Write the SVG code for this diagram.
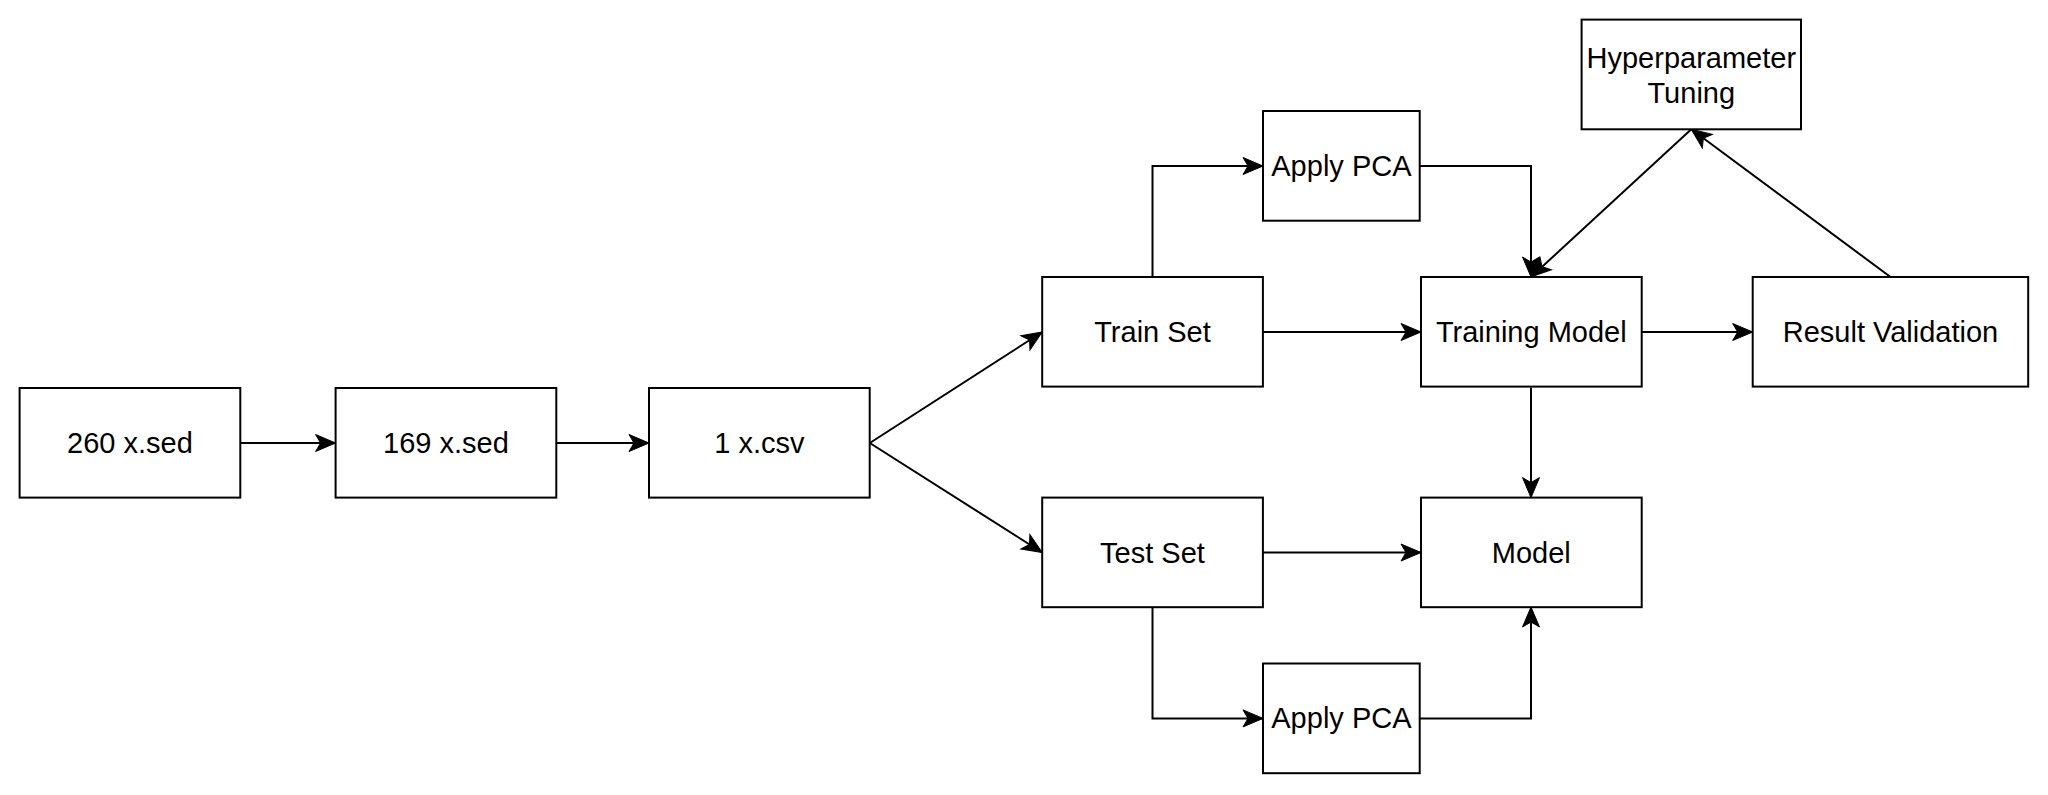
<svg xmlns="http://www.w3.org/2000/svg" width="2048" height="795" viewBox="0 0 2048 795">
<style>
.box{fill:#fff;stroke:#000;stroke-width:2}
.lbl{font-family:"Liberation Sans",Arial,sans-serif;font-size:29px;fill:#000;text-anchor:middle;dominant-baseline:central}
.edge{fill:none;stroke:#000;stroke-width:2}
</style>
<defs>
<marker id="arr" markerUnits="userSpaceOnUse" markerWidth="22" markerHeight="20" viewBox="0 0 22 20" refX="21" refY="10" orient="auto">
<path d="M1,1.5 L21,10 L1,18.5 L6,10 Z" fill="#000" stroke="#000" stroke-width="1"/>
</marker>
</defs>
<rect width="2048" height="795" fill="#fff"/>
<g id="connectors">
<path class="edge" marker-end="url(#arr)" d="M240.3,443 L335.6,443"/>
<path class="edge" marker-end="url(#arr)" d="M556.3,443 L649,443"/>
<path class="edge" marker-end="url(#arr)" d="M869.8,443 L1042.2,332"/>
<path class="edge" marker-end="url(#arr)" d="M869.8,443 L1042.2,552.5"/>
<path class="edge" marker-end="url(#arr)" d="M1152.5,277 L1152.5,166 L1263,166"/>
<path class="edge" marker-end="url(#arr)" d="M1419.7,166 L1531,166 L1531,277"/>
<path class="edge" marker-end="url(#arr)" d="M1263,332 L1421,332"/>
<path class="edge" marker-end="url(#arr)" d="M1641.7,332 L1752.7,332"/>
<path class="edge" marker-end="url(#arr)" d="M1531,387.6 L1531,497.6"/>
<path class="edge" marker-end="url(#arr)" d="M1263,552.5 L1421,552.5"/>
<path class="edge" marker-end="url(#arr)" d="M1152.5,607 L1152.5,718.4 L1263,718.4"/>
<path class="edge" marker-end="url(#arr)" d="M1419.7,718.4 L1531,718.4 L1531,607"/>
<path class="edge" marker-end="url(#arr)" d="M1691.3,129.3 L1531,277"/>
<path class="edge" marker-end="url(#arr)" d="M1890.5,277 L1691.3,129.3"/>
</g>
<g id="n260"><rect class="box" x="19.6" y="388" width="220.7" height="109.6"/><text class="lbl" x="130" y="443">260 x.sed</text></g>
<g id="n169"><rect class="box" x="335.6" y="388" width="220.7" height="109.6"/><text class="lbl" x="446" y="443">169 x.sed</text></g>
<g id="ncsv"><rect class="box" x="649" y="388" width="220.7" height="109.6"/><text class="lbl" x="759.4" y="443">1 x.csv</text></g>
<g id="train"><rect class="box" x="1042.2" y="277" width="220.7" height="109.6"/><text class="lbl" x="1152.5" y="332">Train Set</text></g>
<g id="test"><rect class="box" x="1042.2" y="497.6" width="220.7" height="109.6"/><text class="lbl" x="1152.5" y="552.5">Test Set</text></g>
<g id="pca1"><rect class="box" x="1263" y="111" width="156.7" height="109.7"/><text class="lbl" x="1341.4" y="166">Apply PCA</text></g>
<g id="pca2"><rect class="box" x="1263" y="663.5" width="156.7" height="109.7"/><text class="lbl" x="1341.4" y="718.4">Apply PCA</text></g>
<g id="training"><rect class="box" x="1421" y="277" width="220.7" height="109.6"/><text class="lbl" x="1531.3" y="332">Training Model</text></g>
<g id="model"><rect class="box" x="1421" y="497.6" width="220.7" height="109.6"/><text class="lbl" x="1531.3" y="552.5">Model</text></g>
<g id="validation"><rect class="box" x="1752.7" y="277" width="275.5" height="109.6"/><text class="lbl" x="1890.5" y="332">Result Validation</text></g>
<g id="hyper"><rect class="box" x="1581.6" y="19.6" width="219.4" height="109.7"/><text class="lbl" x="1691.3" y="57.5">Hyperparameter</text><text class="lbl" x="1691.3" y="92.5">Tuning</text></g>
</svg>
